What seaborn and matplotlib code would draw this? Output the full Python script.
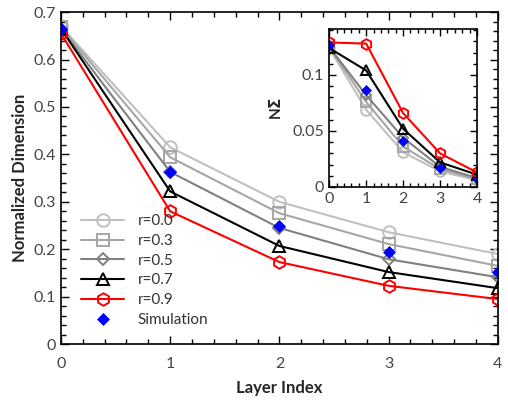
import numpy as np
import pandas as pd
import matplotlib
matplotlib.use("Agg")
import matplotlib.pyplot as plt
from matplotlib.ticker import MultipleLocator
import seaborn as sns

# layer index
layers = [0, 1, 2, 3, 4]

# normalized dimension (main panel)
r00 = [0.670, 0.415, 0.300, 0.236, 0.190]
r03 = [0.668, 0.394, 0.276, 0.211, 0.165]
r05 = [0.665, 0.363, 0.245, 0.179, 0.141]
r07 = [0.665, 0.322, 0.207, 0.152, 0.118]
r09 = [0.655, 0.280, 0.173, 0.123, 0.095]
sim = [0.665, 0.363, 0.249, 0.194, 0.152]

# inset values (N Sigma)
in_r00 = [0.124, 0.069, 0.031, 0.014, 0.006]
in_r03 = [0.125, 0.076, 0.036, 0.016, 0.007]
in_r05 = [0.125, 0.082, 0.044, 0.018, 0.008]
in_r07 = [0.124, 0.104, 0.052, 0.022, 0.011]
in_r09 = [0.129, 0.128, 0.066, 0.030, 0.013]
in_sim = [0.127, 0.087, 0.041, 0.017, 0.007]

labels = ["r=0.0", "r=0.3", "r=0.5", "r=0.7", "r=0.9"]
colors = ["#c0c0c0", "#a6a6a6", "#808080", "#000000", "#ff0000"]
markers = ["o", "s", "D", "^", "h"]
msizes = [9, 9, 6.5, 9, 9]

sns.set_style("ticks")
plt.rcParams["font.family"] = ["Lato", "DejaVu Sans"]
plt.rcParams["mathtext.fontset"] = "dejavusans"

fig = plt.figure(figsize=(5.08, 4.03), dpi=100)
ax = fig.add_axes([0.120, 0.146, 0.860, 0.824])

main_series = [r00, r03, r05, r07, r09]
for vals, lab, c, m, ms in zip(main_series, labels, colors, markers, msizes):
    sns.lineplot(x=layers, y=vals, ax=ax, color=c, marker=m, label=lab,
                 linewidth=1.5, markersize=ms, markerfacecolor="none",
                 markeredgecolor=c, markeredgewidth=1.4)
sns.lineplot(x=layers, y=sim, ax=ax, color="#0000ff", marker="D", linestyle="none",
             markersize=6, markeredgecolor="#0000ff", markeredgewidth=0.5,
             label="Simulation")

ax.set_xlim(0, 4)
ax.set_ylim(0, 0.7)
ax.xaxis.set_major_locator(MultipleLocator(1))
ax.xaxis.set_minor_locator(MultipleLocator(0.2))
ax.yaxis.set_minor_locator(MultipleLocator(0.02))
ax.set_yticks(np.arange(0, 0.71, 0.1))
ax.set_yticklabels(["0", "0.1", "0.2", "0.3", "0.4", "0.5", "0.6", "0.7"])
ax.tick_params(which="both", direction="in", top=True, right=True, colors="#000000",
               labelcolor="#444444", labelsize=11.5)
ax.tick_params(which="major", length=6, width=1)
ax.tick_params(which="minor", length=3.5, width=1)
ax.tick_params(axis="x", pad=9)
for s in ax.spines.values():
    s.set_linewidth(1.2)
    s.set_color("#000000")
ax.set_xlabel("Layer Index", fontweight="bold", fontsize=12, labelpad=7)
ax.set_ylabel("Normalized Dimension", fontweight="bold", fontsize=12, labelpad=4)

ax.legend(loc="lower left", bbox_to_anchor=(0.015, 0.01), frameon=False,
          fontsize=11, handlelength=2.8, labelspacing=0.38, handletextpad=0.9,
          labelcolor="#333333")

# inset
ins = fig.add_axes([0.648, 0.536, 0.291, 0.392])
in_series = [in_r00, in_r03, in_r05, in_r07, in_r09]
for vals, c, m, ms in zip(in_series, colors, markers, msizes):
    sns.lineplot(x=layers, y=vals, ax=ins, color=c, marker=m,
                 linewidth=1.5, markersize=ms * 0.85, markerfacecolor="none",
                 markeredgecolor=c, markeredgewidth=1.4)
sns.lineplot(x=layers, y=in_sim, ax=ins, color="#0000ff", marker="D", linestyle="none",
             markersize=5.5, markeredgecolor="#0000ff", markeredgewidth=0.5)
ins.set_xlim(0, 4)
ins.set_ylim(0, 0.141)
ins.xaxis.set_major_locator(MultipleLocator(1))
ins.xaxis.set_minor_locator(MultipleLocator(0.2))
ins.set_yticks([0, 0.05, 0.1])
ins.set_yticklabels(["0", "0.05", "0.1"])
ins.yaxis.set_minor_locator(MultipleLocator(0.01))
ins.tick_params(which="both", direction="in", top=True, right=True, colors="#000000",
                labelcolor="#444444", labelsize=11.5)
ins.tick_params(which="major", length=5, width=1)
ins.tick_params(which="minor", length=3, width=1)
for s in ins.spines.values():
    s.set_linewidth(1.2)
    s.set_color("#000000")
ins.set_ylabel(r"N$\mathbf{\Sigma}$", fontweight="bold", fontsize=11, labelpad=6)
if ins.get_legend() is not None:
    ins.get_legend().remove()

fig.savefig("out.png", dpi=100)
